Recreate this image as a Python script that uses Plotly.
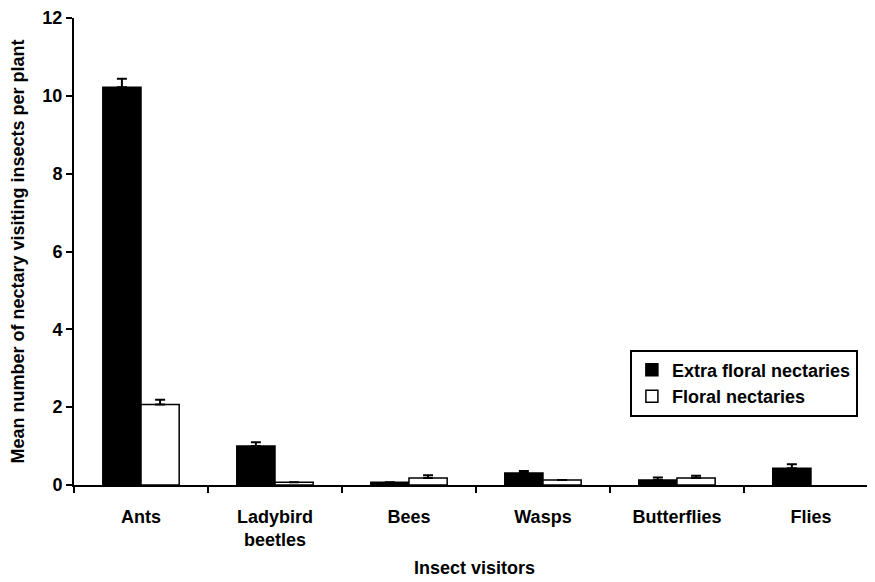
import plotly.graph_objects as go

categories = ["Ants", "Ladybird<br>beetles", "Bees", "Wasps", "Butterflies", "Flies"]
extra_floral = [10.22, 1.0, 0.07, 0.31, 0.13, 0.43]
extra_floral_err = [0.22, 0.1, 0.0, 0.05, 0.06, 0.1]
floral = [2.07, 0.07, 0.18, 0.13, 0.18, None]
floral_err = [0.12, 0.0, 0.07, 0.0, 0.06, 0.0]
y_ticks = [0, 2, 4, 6, 8, 10, 12]

FONT = "Liberation Sans, Arial, sans-serif"
BOLD18 = dict(family=FONT, size=18, color="black", weight="bold")

fig = go.Figure()
fig.add_trace(go.Bar(
    name="Extra floral nectaries", x=categories, y=extra_floral,
    marker=dict(color="black", line=dict(color="black", width=1.5)),
    error_y=dict(type="data", array=extra_floral_err, arrayminus=[0]*6, symmetric=False,
                 color="black", thickness=2, width=5),
))
fig.add_trace(go.Bar(
    name="Floral nectaries", x=categories, y=floral,
    marker=dict(color="white", line=dict(color="black", width=1.5)),
    error_y=dict(type="data", array=floral_err, arrayminus=[0]*6, symmetric=False,
                 color="black", thickness=2, width=5),
))

# page body has an 8px default margin: figure sized to fit the 875x582 window
fig.update_layout(
    width=867, height=574,
    margin=dict(l=66, r=0, t=10, b=97),
    paper_bgcolor="white", plot_bgcolor="white",
    barmode="group", bargap=0.43, bargroupgap=0,
    font=dict(family=FONT, size=18, color="black"),
    showlegend=True,
    legend=dict(
        x=0.694, y=0.29, xanchor="left", yanchor="top",
        bordercolor="black", borderwidth=2, bgcolor="white",
        font=BOLD18,
        itemwidth=30, tracegroupgap=0,
    ),
)
fig.update_xaxes(
    range=[-0.5, 5.478], automargin=False,
    showline=True, linecolor="black", linewidth=2,
    ticks="outside", tickson="boundaries", ticklen=6, tickwidth=2, tickcolor="black",
    tickfont=BOLD18, ticklabeloverflow="allow",
    ticklabelstandoff=14,
    title=dict(text="Insect visitors", font=BOLD18, standoff=12),
    showgrid=False, zeroline=False,
)
fig.update_yaxes(
    range=[0, 12], tickvals=y_ticks, automargin=False,
    showline=True, linecolor="black", linewidth=2,
    ticks="outside", ticklen=6, tickwidth=2, tickcolor="black",
    tickfont=BOLD18, ticklabeloverflow="allow",
    ticklabelstandoff=0,
    title=dict(text="Mean number of nectary visiting insects per plant",
               font=BOLD18, standoff=16),
    showgrid=False, zeroline=False,
)

fig.write_html("out.html")
